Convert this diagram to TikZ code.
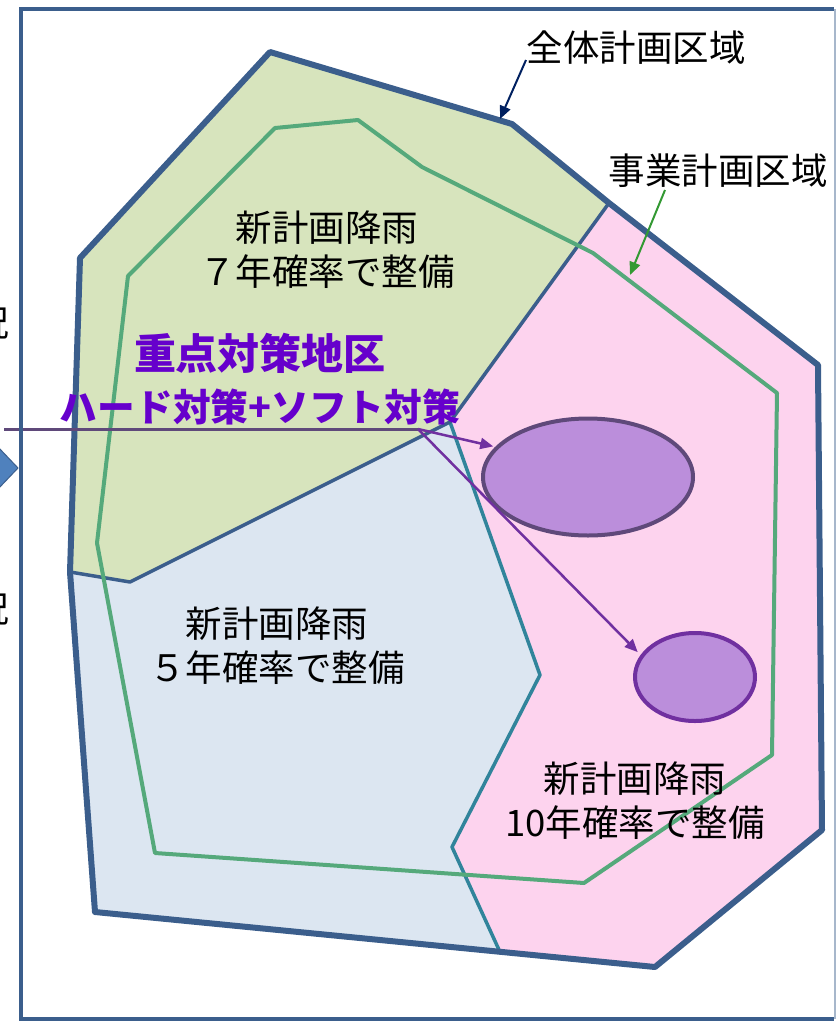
\documentclass[tikz,border=0pt]{standalone}
\usepackage{graphicx}
\usepackage{fontspec}
\newfontfamily\jp{Noto Sans CJK JP}
\usetikzlibrary{shapes.geometric,arrows.meta}
\definecolor{frameblue}{HTML}{3B5E8C}
\definecolor{greenfill}{HTML}{D7E4BD}
\definecolor{bluefill}{HTML}{DCE6F1}
\definecolor{pinkfill}{HTML}{FDD3EE}
\definecolor{tealline}{HTML}{31849B}
\definecolor{projgreen}{HTML}{55A97B}
\definecolor{ellfill}{HTML}{BB8EDB}
\definecolor{ellline}{HTML}{5F497A}
\definecolor{ellline2}{HTML}{7030A0}
\definecolor{keypurple}{HTML}{6600CC}
\definecolor{navy}{HTML}{002060}
\definecolor{arrowgreen}{HTML}{339933}
\definecolor{blockblue}{HTML}{4F81BD}
\tikzset{
  lbl/.style={font=\jp\fontsize{36.5}{44}\selectfont, align=center, inner sep=0pt},
  keylbl/.style={font=\jp\bfseries\fontsize{42}{52}\selectfont, text=keypurple, align=center, inner sep=0pt},
  zone/.style={ellipse, inner sep=0pt, fill=ellfill, line width=4pt},
  callout/.style={line width=2pt, -{Triangle[length=13pt,width=11pt]}},
}
\begin{document}
\begin{tikzpicture}[x=1pt,y=-1pt]
\useasboundingbox (0,0) rectangle (836,1021);
% cut-off content at the left edge
\node[font=\jp\fontsize{36}{36}\selectfont, anchor=east, inner sep=0pt] (c1) at (10,323) {況};
\node[font=\jp\fontsize{36}{36}\selectfont, anchor=east, inner sep=0pt] (c2) at (10,609) {況};
\filldraw[fill=blockblue, draw=frameblue, line width=1pt] (-2,447) -- (18,468) -- (-2,489) -- cycle;
% regions
\fill[pinkfill] (609,203) -- (818,365) -- (822,830) -- (655,967) -- (500,952) -- (452,847) -- (540,675) -- (450,422) -- cycle;
\fill[bluefill] (70,572) -- (130,582) -- (450,422) -- (540,675) -- (452,847) -- (500,952) -- (95,912) -- cycle;
\fill[greenfill] (80,258) -- (270,52) -- (512,124) -- (609,203) -- (450,422) -- (130,582) -- (70,572) -- cycle;
\draw[tealline, line width=3.5pt, line join=round] (609,203) -- (818,365) -- (822,830) -- (655,967) -- (500,952) -- (452,847) -- (540,675) -- (450,422);
\draw[frameblue, line width=3.5pt, line join=round] (609,203) -- (450,422) -- (130,582) -- (70,572);
% project area
\draw[projgreen, line width=4pt, line join=round] (275,128) -- (358,120) -- (422,167) -- (593,253) -- (777,393) -- (772,755) -- (584,883) -- (155,853) -- (97,543) -- (128,276) -- cycle;
% whole planning area
\draw[frameblue, line width=6pt, line join=round] (270,52) -- (512,124) -- (609,203) -- (818,365) -- (822,830) -- (655,967) -- (95,912) -- (70,572) -- (80,258) -- cycle;
% zones
\node[zone, draw=ellline, minimum width=210pt, minimum height=117pt] (e1) at (588,477) {};
\node[zone, draw=ellline2, minimum width=120pt, minimum height=88pt] (e2) at (695,677) {};
% labels
\node[lbl] (t7) at (327,250) {新計画降雨\\７年確率で整備};
\node[lbl] (t5) at (277,646) {新計画降雨\\５年確率で整備};
\node[lbl] (t10) at (635,801) {新計画降雨\\10年確率で整備};
\node[keylbl] (key) at (260,379) {重点対策地区\\\resizebox{400pt}{!}{ハード対策+ソフト対策}};
\node[lbl, anchor=center] (whole) at (636,48) {全体計画区域};
\node[lbl, anchor=center] (proj) at (718,171) {事業計画区域};
\coordinate (wholetip) at (500,119);
\coordinate (projtip) at (630,275);
\draw[callout, navy] (526,60) -- (wholetip);
\draw[callout, arrowgreen] (665,190) -- (projtip);
% key area pointers
\coordinate (lstart) at (4,429);
\coordinate (hub) at (418,429);
\draw[ellline, line width=3pt] (lstart) -- (hub);
\draw[callout, ellline2, line width=2.5pt, shorten >=2pt] (hub) -- (e1.162);
\draw[callout, ellline2, line width=2.5pt, shorten >=4pt] (hub) -- (e2.158);
% frame
\draw[frameblue, line width=4pt] (834,9) -- (21,9) -- (21,1019) -- (834,1019);
\draw[frameblue!45, line width=1.5pt] (835,9) -- (835,1019);
\end{tikzpicture}
\end{document}
